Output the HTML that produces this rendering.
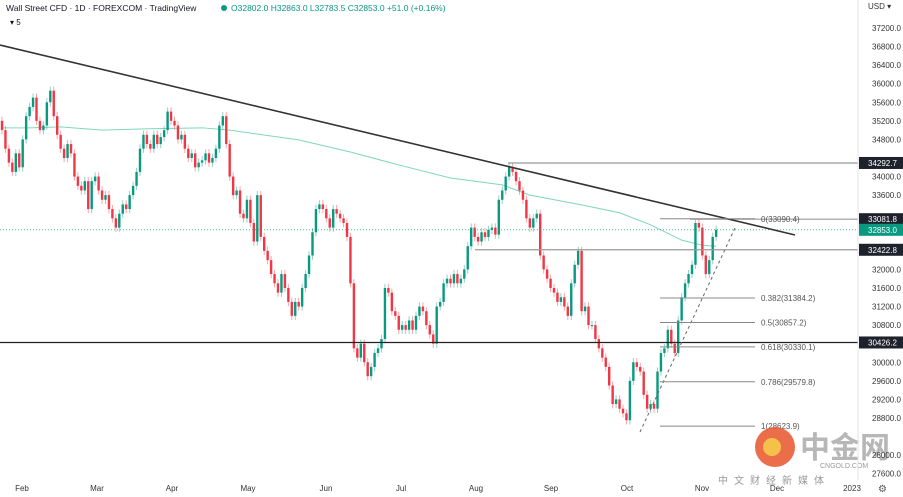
<!DOCTYPE html>
<html><head><meta charset="utf-8"><style>
body{margin:0;background:#fff;width:903px;height:497px;overflow:hidden;font-family:"Liberation Sans","Noto Sans CJK SC",sans-serif}
svg{position:absolute;left:0;top:0}
</style></head><body>
<svg id="chart" width="903" height="497">
<g id="grid"></g><g id="lines"></g><g id="candles"></g><g id="overlay"></g><g id="axis"></g>
</svg>
<script>
const closes=[35000,34600,34300,34100,34500,34200,34800,35300,35500,35700,35200,35000,35100,35600,35850,35300,34900,34600,34400,34700,34500,34000,33800,33700,33900,33300,33900,34000,33700,33500,33600,33300,33100,32900,33200,33400,33300,33600,33800,34100,34600,34900,34700,34600,34900,34700,34850,35000,35400,35200,35100,34800,34900,34600,34400,34500,34200,34300,34350,34500,34300,34400,34600,35100,35300,34700,34000,33600,33700,33200,33100,33500,33000,32600,33600,32700,32400,32200,31900,31700,31500,31900,31600,31300,31000,31300,31200,31600,31900,32300,32800,33300,33400,33300,33100,32900,33300,33200,33100,33000,32700,31700,30300,30100,30400,30000,29700,29900,30200,30300,30500,31600,31500,31100,31000,30700,30800,30700,30900,30700,31000,31200,31100,30800,30600,30400,31200,31300,31700,31800,31700,31900,31700,31800,32000,32500,32900,32700,32600,32800,32700,32850,32900,32750,33500,33700,34000,34200,34100,33900,33700,33500,33100,32900,33100,33200,32300,32000,31800,31600,31500,31300,31400,31200,31000,31700,32100,32400,31100,31200,30800,30800,30500,30300,30100,29900,29500,29100,29200,29000,28900,28750,29600,30000,29900,29800,29300,29000,29100,29000,29800,30200,30300,30700,30400,30200,30900,31400,31700,31900,32100,33000,32900,32300,31900,32200,32700,32853];
const firstOpen=35200;
const maIdx=[0,8,17,29,43,58,66,86,101,115,130,145,153,168,179,188,197,203,207];
const maVals=[35050,35050,35070,35000,35030,35050,35000,34790,34530,34250,33970,33820,33600,33390,33220,32960,32630,32520,32500];
const priceTicks=[37200,36800,36400,36000,35600,35200,34800,34000,33600,32000,31600,31200,30800,30000,29600,29200,28800,28000,27600];
const monthLabels=["Feb","Mar","Apr","May","Jun","Jul","Aug","Sep","Oct","Nov","Dec","2023"];
const monthX=[22,97,172,248,326,401,476,551,627,702,777,852];
const fibRatios=["0","0.382","0.5","0.618","0.786","1"];
const fibPrices=[33090.4,31384.2,30857.2,30330.1,29579.8,28623.9];
const levels=[34292.7,33081.8,32422.8,30426.2];

const NS="http://www.w3.org/2000/svg";
const y=p=>28+(37200-p)/400*18.57;
const x=i=>2+3.45*i;
function el(tag,attrs,parent){const e=document.createElementNS(NS,tag);for(const k in attrs)e.setAttribute(k,attrs[k]);document.getElementById(parent).appendChild(e);return e;}
// axis separator
el('line',{x1:858,y1:0,x2:858,y2:480,stroke:'#e0e3eb'},'axis');
// ticks
priceTicks.forEach(p=>{const t=el('text',{x:872,y:y(p)+3,'font-size':8,fill:'#333'},'axis');t.textContent=p.toFixed(1);

});
monthLabels.forEach((m,i)=>{const t=el('text',{x:monthX[i],y:491,'font-size':8,fill:'#333','text-anchor':'middle'},'axis');t.textContent=m;

});
// MA line
let d='';maIdx.forEach((k,i)=>{d+=(i?'L':'M')+x(k)+','+y(maVals[i]);});
const ma=el('path',{d:d,fill:'none',stroke:'#7fd6bd','stroke-width':1},'lines');


// candles
closes.forEach((c,i)=>{const o=i?closes[i-1]:firstOpen;const up=c>=o;const col=up?'#089981':'#f23645';
const hi=Math.max(o,c)+90,lo=Math.min(o,c)-90;
const w=el('line',{x1:x(i),x2:x(i),y1:y(hi),y2:y(lo),stroke:col,'stroke-opacity':0.45},'candles');


const top=y(Math.max(o,c)),h=Math.max(1,y(Math.min(o,c))-top);
const b=el('rect',{x:x(i)-1.2,y:top,width:2.4,height:h,fill:col},'candles');

});
// current price dotted
const cp=closes[closes.length-1];
el('line',{x1:0,x2:858,y1:y(cp),y2:y(cp),stroke:'#089981','stroke-dasharray':'1,2','stroke-opacity':0.7},'overlay');
// horizontal levels
const lvStart=[508,690,475,0];
levels.forEach((p,i)=>{const dark=i===3;
const l=el('line',{x1:lvStart[i],x2:858,y1:y(p),y2:y(p),stroke:dark?'#222':'#999','stroke-width':dark?1.3:1.2},'overlay');


const r=el('rect',{x:859,y:y(p)-6,width:44,height:12,fill:'#1e222d'},'axis');
const t=el('text',{x:868,y:y(p)+3,'font-size':8,fill:'#fff'},'axis');t.textContent=p.toFixed(1);

});
el('rect',{x:859,y:y(cp)-6,width:44,height:12,fill:'#089981'},'axis');
const cpt=el('text',{x:868,y:y(cp)+3,'font-size':8,fill:'#fff'},'axis');cpt.textContent=cp.toFixed(1);
// trend line
const tl=el('line',{x1:0,y1:45,x2:795,y2:235,stroke:'#333','stroke-width':1.6},'overlay');


const dl=el('line',{x1:640,y1:432,x2:735,y2:228,stroke:'#666','stroke-dasharray':'3,3'},'overlay');


// fib
fibPrices.forEach((p,i)=>{el('line',{x1:660,x2:755,y1:y(p),y2:y(p),stroke:'#888'},'overlay');
const t=el('text',{x:761,y:y(p)+3,'font-size':8,fill:'#555'},'overlay');t.textContent=fibRatios[i]+'('+p.toFixed(1)+')';

});
// header
const h1=el('text',{x:6,y:11,'font-size':8.5,fill:'#131722'},'axis');h1.textContent='Wall Street CFD · 1D · FOREXCOM · TradingView';


el('circle',{cx:224,cy:8,r:3,fill:'#089981'},'axis');
const h2=el('text',{x:231,y:11,'font-size':8.5,fill:'#089981'},'axis');h2.textContent='O32802.0 H32863.0 L32783.5 C32853.0 +51.0 (+0.16%)';


const h3=el('text',{x:10,y:25,'font-size':8,fill:'#131722'},'axis');h3.textContent='▾ 5';
const usd=el('text',{x:868,y:9,'font-size':8,fill:'#333'},'axis');usd.textContent='USD ▾';


// watermark
el('circle',{cx:775,cy:447,r:20,fill:'#e8542a','fill-opacity':0.85},'overlay');
el('circle',{cx:772,cy:447,r:9,fill:'#f5c14a'},'overlay');
const wm=el('text',{x:800,y:458,'font-size':30,fill:'#999','fill-opacity':0.7,'font-weight':'bold'},'overlay');wm.textContent='中金网';


const wm2=el('text',{x:820,y:468,'font-size':7,fill:'#999'},'overlay');wm2.textContent='CNGOLD.COM';
const wm3=el('text',{x:718,y:484,'font-size':10,fill:'#999','letter-spacing':6},'overlay');wm3.textContent='中文财经新媒体';
const g=el('text',{x:878,y:492,'font-size':10,fill:'#555'},'axis');g.textContent='⚙';


</script>
</body></html>
